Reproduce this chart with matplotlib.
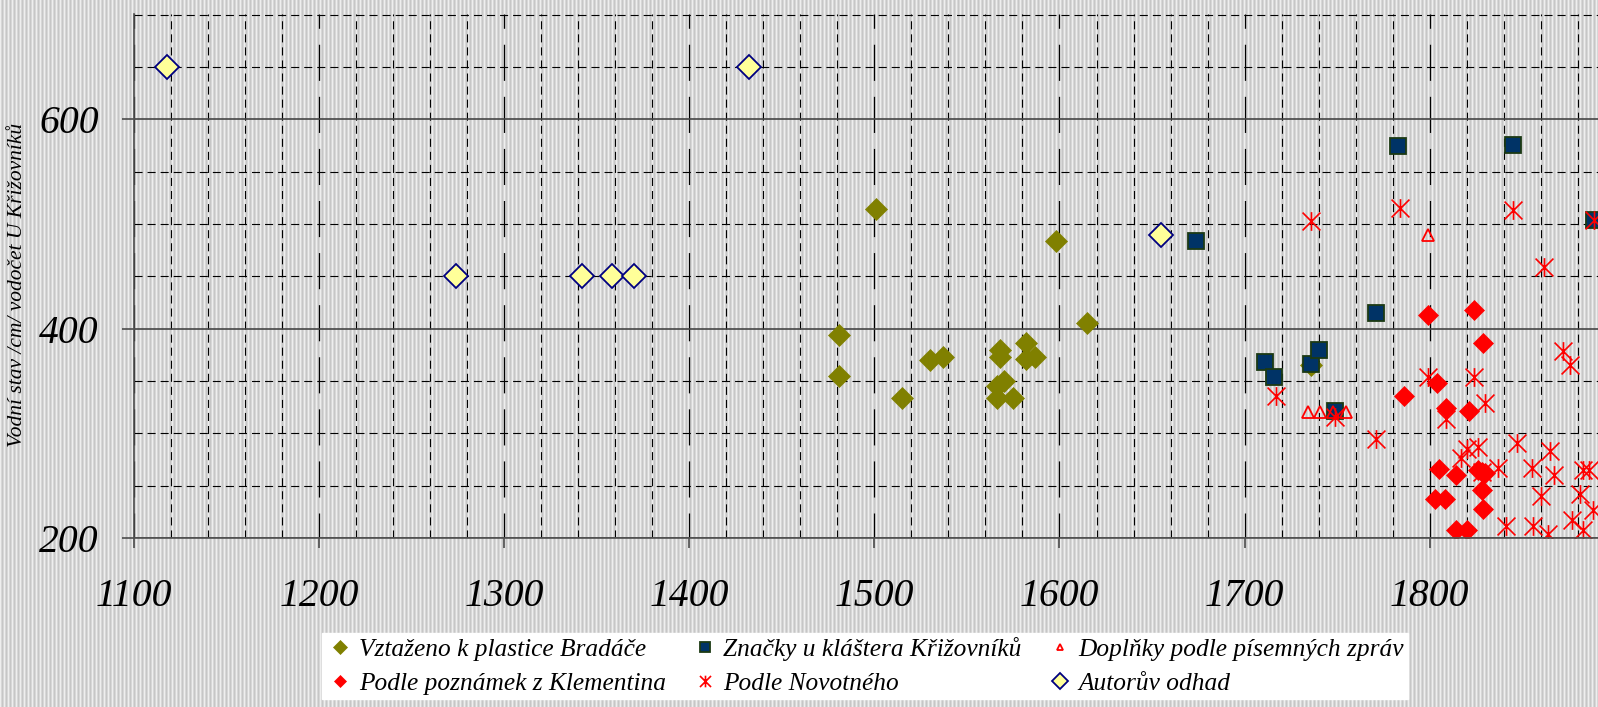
import numpy
import matplotlib
matplotlib.use("Agg")
import matplotlib.pyplot as plt
from matplotlib.path import Path
from matplotlib.ticker import MultipleLocator

# vodni stavy Vltavy - ruzne zdroje
bradac_rok = [1481, 1481, 1501, 1515, 1530, 1537, 1566, 1566, 1568, 1568, 1570, 1575, 1582, 1582, 1587, 1598, 1615, 1736]
bradac_stav = [394, 355, 514, 334, 370, 373, 345, 334, 380, 373, 350, 334, 386, 371, 373, 484, 405, 365]

krizovnici_rok = [1674, 1711, 1716, 1736, 1740, 1749, 1771, 1783, 1845, 1889]
krizovnici_stav = [484, 368, 354, 366, 380, 321, 415, 574, 575, 504]

doplnky_rok = [1734, 1741, 1748, 1755, 1799]
doplnky_stav = [320, 320, 320, 320, 489]

klementinum_rok = [1786, 1799, 1804, 1809, 1821, 1824, 1829, 1803, 1808, 1805, 1814, 1826, 1828, 1830, 1828, 1829, 1814, 1820]
klementinum_stav = [336, 413, 348, 324, 321, 418, 386, 237, 237, 266, 260, 265, 263, 262, 246, 228, 208, 208]

novotny_rok = [1717, 1736, 1749, 1771, 1784, 1799, 1809, 1817, 1820, 1824, 1826, 1828, 1830, 1837, 1841, 1845,
	1847, 1855, 1856, 1860, 1862, 1864, 1865, 1867, 1872, 1876, 1877, 1881, 1883, 1883, 1886, 1888, 1889]
novotny_stav = [336, 503, 316, 295, 515, 354, 314, 276, 285, 354, 287, 263, 329, 267, 211, 513,
	291, 267, 211, 240, 459, 204, 283, 260, 379, 365, 217, 242, 265, 208, 265, 227, 504]

odhad_rok = [1118, 1274, 1342, 1358, 1370, 1432, 1655]
odhad_stav = [650, 450, 450, 450, 450, 650, 489]

popisky = ["Vztaženo k plastice Bradáče", "Značky u kláštera Křižovníků", "Doplňky podle písemných zpráv",
	"Podle poznámek z Klementina", "Podle Novotného", "Autorův odhad"]


def main():
	plt.rcParams["font.family"] = ["Liberation Serif", "DejaVu Serif"];
	plt.rcParams["font.style"] = "italic";
	plt.rcParams["lines.scale_dashes"] = False;

	W, H = 1598, 707;
	fig = plt.figure(figsize = (W/100., H/100.), dpi = 100);

	# pruhovane pozadi
	pruh = numpy.array([238, 215, 198, 215], dtype = numpy.uint8);
	sloupce = pruh[numpy.arange(W) % 4];
	pozadi = numpy.repeat(numpy.repeat(sloupce[None, :, None], H, axis = 0), 3, axis = 2);
	fig.figimage(pozadi, 0, 0, zorder = -5);

	ax = fig.add_axes([134./W, 1 - 538./H, 1 - 134./W, (538. - 14.)/H]);
	ax.set_facecolor("none");
	ax.set_xlim(1100, 1100 + (W - 134)/1.851);
	ax.set_ylim(200, 700.5);

	ax.xaxis.set_major_locator(MultipleLocator(100));
	ax.xaxis.set_minor_locator(MultipleLocator(20));
	ax.yaxis.set_major_locator(MultipleLocator(200));
	ax.yaxis.set_minor_locator(MultipleLocator(50));
	ax.set_axisbelow(True);

	ax.grid(which = "major", axis = "y", color = "#454545", lw = 1.2, ls = "-");
	ax.grid(which = "major", axis = "x", color = "black", lw = 0.9, ls = (8, (26, 11.5)));
	ax.grid(which = "minor", axis = "both", color = "black", lw = 0.8, ls = (0, (5.8, 3.6)));

	for s in ["top", "right"]:
		ax.spines[s].set_visible(False);
	for s in ["left", "bottom"]:
		ax.spines[s].set_color("#505050");
		ax.spines[s].set_linewidth(1.2);

	ax.tick_params(which = "major", direction = "out", color = "#404040", width = 1.1, labelsize = 28.5);
	ax.tick_params(axis = "x", which = "major", length = 7.5, pad = 21);
	ax.tick_params(axis = "y", which = "major", length = 8.5, pad = 17);
	ax.tick_params(which = "minor", length = 0);

	hvezda = Path([(-1, -1), (1, 1), (-1, 1), (1, -1), (0, -1.05), (0, 1.05)],
		[Path.MOVETO, Path.LINETO] * 3);

	h1, = ax.plot(bradac_rok, bradac_stav, ls = "none", marker = "D", ms = 11.5, mfc = "#808000", mec = "#808000", mew = 0.5);
	h2, = ax.plot(krizovnici_rok, krizovnici_stav, ls = "none", marker = "s", ms = 12, mfc = "#003366", mec = "#1c3a14", mew = 1.3);
	h3, = ax.plot(doplnky_rok, doplnky_stav, ls = "none", marker = "^", ms = 8, mfc = "none", mec = "#ff0000", mew = 1.3);
	h4, = ax.plot(klementinum_rok, klementinum_stav, ls = "none", marker = "D", ms = 9.8, mfc = "#ff0000", mec = "#ff0000", mew = 0.5);
	h5, = ax.plot(novotny_rok, novotny_stav, ls = "none", marker = hvezda, ms = 13.5, mfc = "none", mec = "#ff0000", mew = 1.2);
	h6, = ax.plot(odhad_rok, odhad_stav, ls = "none", marker = "D", ms = 12.5, mfc = "#ffff99", mec = "#000080", mew = 1.3);

	fig.text(18./W, 1 - 285./H, "Vodní stav /cm/ vodočet U Křižovníků", rotation = 90,
		ha = "center", va = "center", fontsize = 15.5);

	leg = fig.legend([h1, h4, h2, h5, h3, h6],
		[popisky[0], popisky[3], popisky[1], popisky[4], popisky[2], popisky[5]],
		ncol = 3, loc = "upper left", bbox_to_anchor = (322./W, 1 - 633./H), fontsize = 18.3,
		frameon = True, fancybox = False, facecolor = "white", edgecolor = "white", framealpha = 1,
		borderpad = 0.15, labelspacing = 0.45, handlelength = 1.15, handletextpad = 0.15,
		columnspacing = 0.95, markerscale = 0.62, borderaxespad = 0);

	fig.savefig("out.png", dpi = 100);


main()
